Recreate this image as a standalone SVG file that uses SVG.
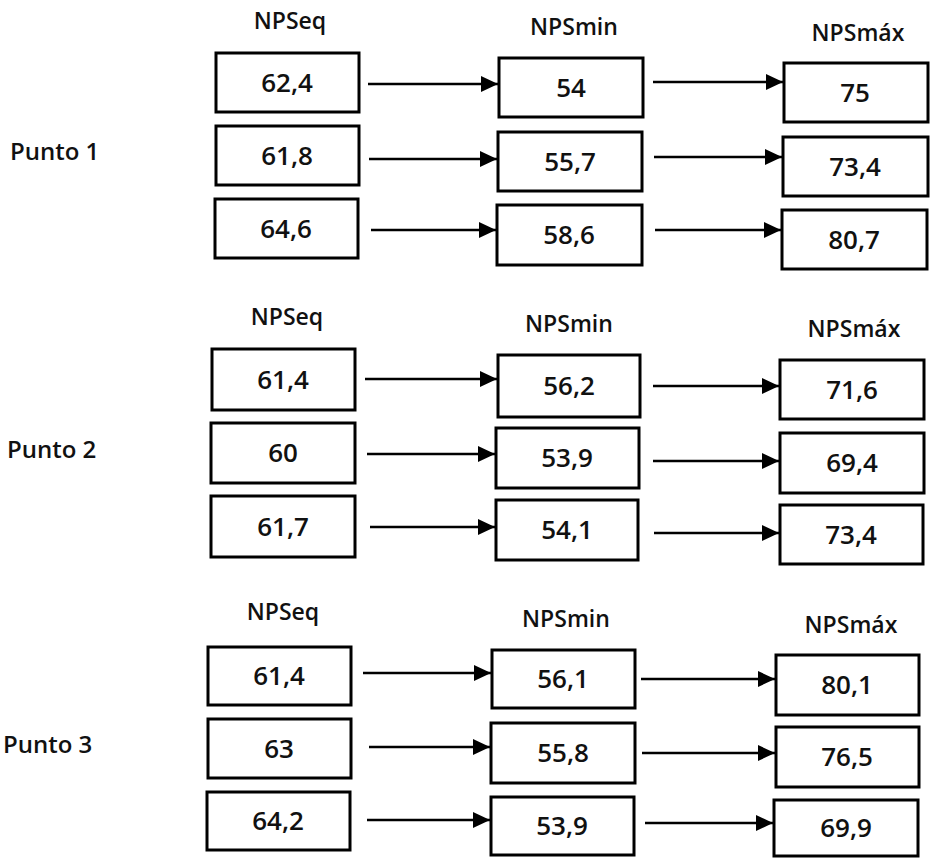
<svg xmlns="http://www.w3.org/2000/svg" width="930" height="859" viewBox="0 0 930 859">
<style>
.box{fill:#fff;stroke:#000;stroke-width:3}
.val{font-family:"Open Sans","Liberation Sans",sans-serif;font-size:26px;font-weight:600;fill:#111;text-anchor:middle}
.hdr{font-family:"Open Sans","Liberation Sans",sans-serif;font-size:23px;font-weight:600;fill:#111;text-anchor:middle}
.pt{font-family:"Open Sans","Liberation Sans",sans-serif;font-size:24px;font-weight:600;fill:#111}
.arr{stroke:#000;stroke-width:2.4;fill:none;marker-end:url(#ah)}
</style>
<defs>
<marker id="ah" markerUnits="userSpaceOnUse" markerWidth="17" markerHeight="17" viewBox="0 0 17 17" refX="17" refY="8.5" orient="auto">
<path d="M0,0.5 L17,8.5 L0,16.5 Z" fill="#000"/>
</marker>
</defs>
<rect width="930" height="859" fill="#fff"/>
<g id="labels">
<text class="pt" x="10" y="160">Punto 1</text>
<text class="pt" x="7" y="458">Punto 2</text>
<text class="pt" x="3" y="753">Punto 3</text>
<text class="hdr" x="290" y="29">NPSeq</text>
<text class="hdr" x="574" y="35">NPSmin</text>
<text class="hdr" x="858" y="41">NPSmáx</text>
<text class="hdr" x="287" y="325">NPSeq</text>
<text class="hdr" x="569" y="332">NPSmin</text>
<text class="hdr" x="854" y="337">NPSmáx</text>
<text class="hdr" x="283" y="620">NPSeq</text>
<text class="hdr" x="566" y="627">NPSmin</text>
<text class="hdr" x="851" y="633">NPSmáx</text>
</g>
<g id="connectors">
<line class="arr" x1="368" y1="84" x2="498" y2="84"/>
<line class="arr" x1="369" y1="159" x2="497" y2="159"/>
<line class="arr" x1="371" y1="230" x2="496" y2="230"/>
<line class="arr" x1="653" y1="82" x2="783" y2="82"/>
<line class="arr" x1="654" y1="157" x2="782" y2="157"/>
<line class="arr" x1="655" y1="230" x2="781" y2="230"/>
<line class="arr" x1="365" y1="379" x2="497" y2="379"/>
<line class="arr" x1="367" y1="454" x2="495" y2="454"/>
<line class="arr" x1="370" y1="527" x2="495" y2="527"/>
<line class="arr" x1="653" y1="386" x2="779" y2="386"/>
<line class="arr" x1="653" y1="461" x2="779" y2="461"/>
<line class="arr" x1="654" y1="533" x2="779" y2="533"/>
<line class="arr" x1="363" y1="673" x2="491" y2="673"/>
<line class="arr" x1="369" y1="747" x2="490" y2="747"/>
<line class="arr" x1="367" y1="820" x2="490" y2="820"/>
<line class="arr" x1="641" y1="679" x2="775" y2="679"/>
<line class="arr" x1="642" y1="753" x2="775" y2="753"/>
<line class="arr" x1="645" y1="823" x2="773" y2="823"/>
</g>
<g id="p1-eq1"><rect class="box" x="216" y="53" width="143" height="59"/><text class="val" x="287" y="92">62,4</text></g>
<g id="p1-eq2"><rect class="box" x="216" y="126" width="143" height="59"/><text class="val" x="287" y="165">61,8</text></g>
<g id="p1-eq3"><rect class="box" x="215" y="199" width="143" height="59"/><text class="val" x="286" y="238">64,6</text></g>
<g id="p1-min1"><rect class="box" x="499" y="58" width="144" height="59"/><text class="val" x="571" y="97">54</text></g>
<g id="p1-min2"><rect class="box" x="498" y="132" width="144" height="59"/><text class="val" x="570" y="171">55,7</text></g>
<g id="p1-min3"><rect class="box" x="497" y="205" width="145" height="60"/><text class="val" x="569" y="244">58,6</text></g>
<g id="p1-max1"><rect class="box" x="784" y="63" width="144" height="59"/><text class="val" x="855" y="102">75</text></g>
<g id="p1-max2"><rect class="box" x="783" y="137" width="145" height="59"/><text class="val" x="855" y="176">73,4</text></g>
<g id="p1-max3"><rect class="box" x="782" y="210" width="145" height="59"/><text class="val" x="854" y="249">80,7</text></g>
<g id="p2-eq1"><rect class="box" x="212" y="349" width="143" height="61"/><text class="val" x="283" y="389">61,4</text></g>
<g id="p2-eq2"><rect class="box" x="211" y="423" width="144" height="60"/><text class="val" x="283" y="462">60</text></g>
<g id="p2-eq3"><rect class="box" x="211" y="496" width="144" height="61"/><text class="val" x="283" y="536">61,7</text></g>
<g id="p2-min1"><rect class="box" x="498" y="355" width="142" height="62"/><text class="val" x="569" y="395">56,2</text></g>
<g id="p2-min2"><rect class="box" x="496" y="428" width="143" height="60"/><text class="val" x="567" y="467">53,9</text></g>
<g id="p2-min3"><rect class="box" x="496" y="500" width="142" height="60"/><text class="val" x="567" y="539">54,1</text></g>
<g id="p2-max1"><rect class="box" x="780" y="360" width="144" height="59"/><text class="val" x="852" y="399">71,6</text></g>
<g id="p2-max2"><rect class="box" x="780" y="433" width="144" height="60"/><text class="val" x="852" y="472">69,4</text></g>
<g id="p2-max3"><rect class="box" x="780" y="505" width="143" height="59"/><text class="val" x="851" y="544">73,4</text></g>
<g id="p3-eq1"><rect class="box" x="208" y="647" width="143" height="58"/><text class="val" x="279" y="685">61,4</text></g>
<g id="p3-eq2"><rect class="box" x="208" y="719" width="143" height="59"/><text class="val" x="279" y="758">63</text></g>
<g id="p3-eq3"><rect class="box" x="207" y="792" width="143" height="58"/><text class="val" x="278" y="830">64,2</text></g>
<g id="p3-min1"><rect class="box" x="492" y="650" width="143" height="58"/><text class="val" x="563" y="688">56,1</text></g>
<g id="p3-min2"><rect class="box" x="491" y="723" width="144" height="60"/><text class="val" x="563" y="762">55,8</text></g>
<g id="p3-min3"><rect class="box" x="491" y="797" width="143" height="58"/><text class="val" x="562" y="835">53,9</text></g>
<g id="p3-max1"><rect class="box" x="776" y="655" width="143" height="60"/><text class="val" x="847" y="694">80,1</text></g>
<g id="p3-max2"><rect class="box" x="776" y="727" width="143" height="60"/><text class="val" x="847" y="766">76,5</text></g>
<g id="p3-max3"><rect class="box" x="774" y="800" width="144" height="56"/><text class="val" x="846" y="837">69,9</text></g>
</svg>
